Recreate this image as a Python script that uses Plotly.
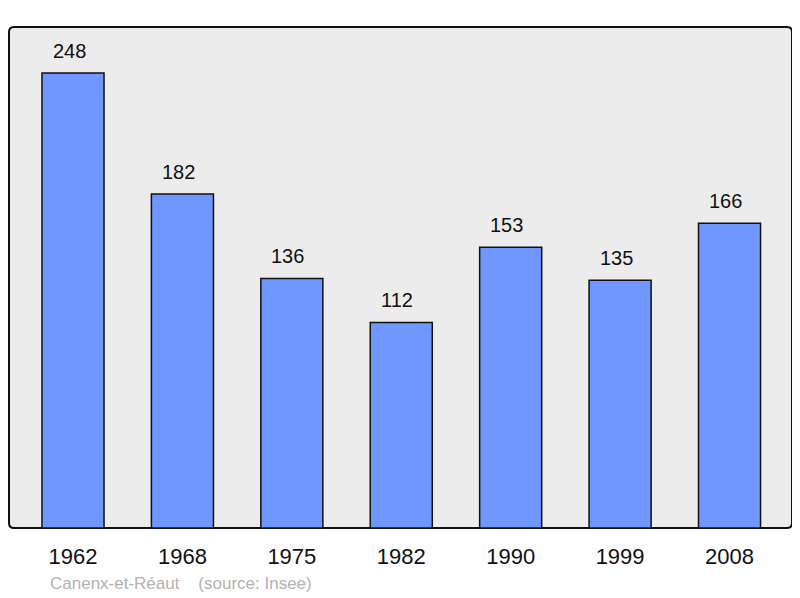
import plotly.graph_objects as go

years = ["1962", "1968", "1975", "1982", "1990", "1999", "2008"]
population = [248, 182, 136, 112, 153, 135, 166]
caption = "Canenx-et-Réaut\u00a0\u00a0\u00a0\u00a0(source: Insee)"

xpos = list(range(len(years)))
FONT = "Liberation Sans, Arial, sans-serif"

fig = go.Figure()
fig.add_trace(go.Bar(
    x=xpos, y=population, width=0.567,
    marker=dict(color="#6f97ff", line=dict(color="#111", width=1.5)),
    hoverinfo="skip",
))

for xi, v in zip(xpos, population):
    fig.add_annotation(x=xi, y=v, text=str(v), showarrow=False,
                       yanchor="bottom", yshift=9, xshift=-4,
                       font=dict(size=20, color="#111", family=FONT))

# rounded frame
W, H = 783.0, 501.0
r = 5.0
rx, ry = r / W, r / H
path = (f"M {rx},0 L {1-rx},0 Q 1,0 1,{ry} L 1,{1-ry} Q 1,1 {1-rx},1 "
        f"L {rx},1 Q 0,1 0,{1-ry} L 0,{ry} Q 0,0 {rx},0 Z")
fig.add_shape(type="path", xref="paper", yref="paper", path=path,
              fillcolor="#ececec", line=dict(color="#111", width=2), layer="below")

fig.add_annotation(xref="paper", yref="paper", x=(48 - 9) / W, y=-(583 - 528) / H,
                   xanchor="left", yanchor="middle", showarrow=False,
                   text=caption,
                   font=dict(size=17, color="#b3b3b3", family=FONT))

fig.update_layout(
    width=792, height=590,
    margin=dict(l=1, r=8, t=19, b=70),
    paper_bgcolor="white", plot_bgcolor="rgba(0,0,0,0)",
    showlegend=False,
    font=dict(family=FONT, color="#111"),
    xaxis=dict(range=[-0.585, 6.571], tickmode="array", tickvals=xpos, ticktext=years,
               showgrid=False, zeroline=False, showline=False, ticks="",
               tickfont=dict(size=22, color="#111"), ticklabelstandoff=13),
    yaxis=dict(range=[0, 273], showgrid=False, zeroline=False, showline=False,
               showticklabels=False, ticks=""),
)

fig.write_html("out.html")
